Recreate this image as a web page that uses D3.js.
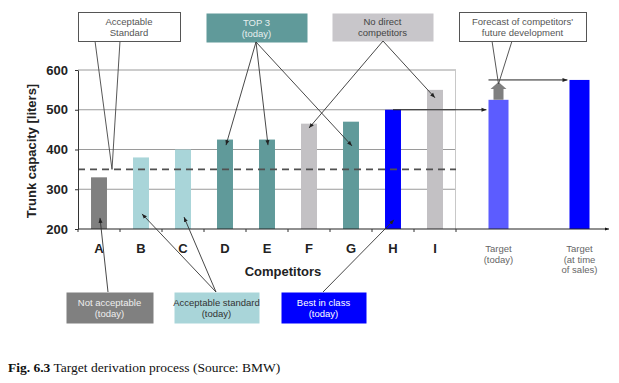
<!DOCTYPE html>
<html><head><meta charset="utf-8">
<script src="https://cdn.jsdelivr.net/npm/d3@7"></script>
<style>body{margin:0;background:#fff}svg{display:block}</style>
</head><body><svg id="c" width="619" height="383"></svg>
<script>
// ---- data ----
const categories = ["A","B","C","D","E","F","G","H","I"];
const values = [330,380,400,425,425,465,470,500,550];
const groups = ["not","acc","acc","top","top","nodirect","top","best","nodirect"];
const targetKeys = ["today","sales"];
const targetLabels = [["Target","(today)"],["Target","(at time","of sales)"]];
const targetValues = [525,575];
const forecastValue = 575;
const acceptableStandard = 350;
const yTicks = [200,300,400,500,600];
const gridValues = [300,400,500,600];
const yTitle = "Trunk capacity [liters]";
const xTitle = "Competitors";

// ---- styles ----
const groupColor = {not:"#808080", acc:"#a9d5d9", top:"#609a9a", nodirect:"#c3c1c4", best:"#0000ff"};
const targetColor = ["#5c5cff","#0000ff"];
const FONT = "'Liberation Sans', Arial, sans-serif";

const svg = d3.select("#c");
const defs = svg.append("defs");
defs.append("marker").attr("id","ah").attr("viewBox","0 0 10 10")
  .attr("refX",10).attr("refY",5).attr("markerWidth",5).attr("markerHeight",5)
  .attr("orient","auto").attr("markerUnits","userSpaceOnUse")
  .append("path").attr("d","M0,1 L10,5 L0,9 z").attr("fill","#222");
defs.append("marker").attr("id","ahs").attr("viewBox","0 0 10 10")
  .attr("refX",10).attr("refY",5).attr("markerWidth",4).attr("markerHeight",4)
  .attr("orient","auto").attr("markerUnits","userSpaceOnUse")
  .append("path").attr("d","M0,1 L10,5 L0,9 z").attr("fill","#111");

// ---- scales ----
const y = d3.scaleLinear().domain([200,600]).range([229,70]);
const x = d3.scaleBand().domain(categories).range([78,456]).paddingInner(0.62).paddingOuter(0.31);
const xt = d3.scaleBand().domain(targetKeys).range([458,620]).paddingInner(0.753).paddingOuter(0.3765);
const cx = c => x(c) + x.bandwidth()/2;
const tx = k => xt(k) + xt.bandwidth()/2;
const [x0, x1] = x.range();

// grid
svg.append("g").selectAll("line").data(gridValues).join("line")
  .attr("x1",x0).attr("x2",x1).attr("y1",d=>y(d)).attr("y2",d=>y(d))
  .attr("stroke","#9a9a9a").attr("stroke-width",1);
svg.append("line").attr("x1",x1-0.5).attr("x2",x1-0.5).attr("y1",y(600)).attr("y2",y(200))
  .attr("stroke","#c8c8c8");

// bars
svg.append("g").selectAll("rect").data(categories).join("rect")
  .attr("x",d=>x(d)).attr("width",x.bandwidth())
  .attr("y",(d,i)=>y(values[i])).attr("height",(d,i)=>y(200)-y(values[i]))
  .attr("fill",(d,i)=>groupColor[groups[i]]);
svg.append("g").selectAll("rect").data(targetKeys).join("rect")
  .attr("x",d=>xt(d)).attr("width",xt.bandwidth())
  .attr("y",(d,i)=>y(targetValues[i])).attr("height",(d,i)=>y(200)-y(targetValues[i]))
  .attr("fill",(d,i)=>targetColor[i]);

// acceptable standard dashed line
svg.append("line").attr("x1",x0).attr("x2",x1).attr("y1",y(acceptableStandard)).attr("y2",y(acceptableStandard))
  .attr("stroke","#505050").attr("stroke-width",1.6).attr("stroke-dasharray","7,5");

// y axis
const yAxis = svg.append("g").attr("transform",`translate(${x0},0)`)
  .call(d3.axisLeft(y).tickValues(yTicks).tickSize(3).tickSizeOuter(0).tickPadding(7));
yAxis.select(".domain").attr("stroke","#333");
yAxis.selectAll(".tick line").attr("stroke","#333");
yAxis.selectAll("text").attr("font-family",FONT).attr("font-weight","bold").attr("font-size",13).attr("fill","#222");

// x axis line with arrow
svg.append("line").attr("x1",x0).attr("x2",609).attr("y1",y(200)).attr("y2",y(200))
  .attr("stroke","#222").attr("stroke-width",1.2).attr("marker-end","url(#ahs)");
const bounds = categories.map(c => x(c) - (x.step()-x.bandwidth())/2).concat([x1]);
svg.append("g").selectAll("line").data(bounds).join("line")
  .attr("x1",d=>d).attr("x2",d=>d).attr("y1",y(200)).attr("y2",y(200)+3).attr("stroke","#333");

// category labels
svg.append("g").selectAll("text").data(categories).join("text")
  .attr("x",d=>cx(d)).attr("y",253).attr("text-anchor","middle")
  .attr("font-family",FONT).attr("font-weight","bold").attr("font-size",13).attr("fill","#222").text(d=>d);
// target labels
targetKeys.forEach((k,i)=>{
  const t = svg.append("text").attr("x",tx(k)).attr("y",252).attr("text-anchor","middle")
    .attr("font-family",FONT).attr("font-size",9.5).attr("fill","#666");
  targetLabels[i].forEach((line,j)=>t.append("tspan").attr("x",tx(k)).attr("dy",j?10.5:0).text(line));
});
// titles
svg.append("text").attr("x",283).attr("y",276).attr("text-anchor","middle")
  .attr("font-family",FONT).attr("font-weight","bold").attr("font-size",13).attr("fill","#222").text(xTitle);
svg.append("text").attr("transform","translate(36,151) rotate(-90)").attr("text-anchor","middle")
  .attr("font-family",FONT).attr("font-weight","bold").attr("font-size",13).attr("fill","#222").text(yTitle);

// forecast grey up-arrow
const ft = tx("today"), yt = y(targetValues[0]), yf = y(forecastValue);
svg.append("path").attr("d",`M${ft-5},${yt} V${yf+9} H${ft-8} L${ft},${yf+2} L${ft+8},${yf+9} H${ft+5} V${yt} Z`)
  .attr("fill","#7f7f7f");
// horizontal arrows
svg.append("line").attr("x1",xt("today")).attr("x2",xt("sales")-2).attr("y1",yf).attr("y2",yf)
  .attr("stroke","#222").attr("marker-end","url(#ah)");
svg.append("line").attr("x1",cx("H")).attr("x2",xt("today")-2).attr("y1",y(values[7])).attr("y2",y(values[7]))
  .attr("stroke","#222").attr("marker-end","url(#ah)");

// ---- annotations ----
function box(x,yy,w,h,fill,stroke,color,lines){
  svg.append("rect").attr("x",x+0.5).attr("y",yy+0.5).attr("width",w).attr("height",h)
    .attr("fill",fill).attr("stroke",stroke||"none");
  const c = yy + h/2;
  lines.forEach((l,j)=>svg.append("text").attr("x",x+w/2).attr("y",c-2+j*11).attr("text-anchor","middle")
    .attr("font-family",FONT).attr("font-size",9.5).attr("fill",color).text(l));
}
function arrow(x1,y1,x2,y2){
  svg.append("line").attr("x1",x1).attr("y1",y1).attr("x2",x2).attr("y2",y2)
    .attr("stroke","#333").attr("stroke-width",0.9).attr("marker-end","url(#ah)");
}
// callout wedges
svg.append("path").attr("d",`M95,41 L${cx("A")+13},${y(acceptableStandard)} L120,41`)
  .attr("fill","none").attr("stroke","#444").attr("stroke-width",0.9);
svg.append("path").attr("d",`M492,41 L${ft},${yf+4} L512,41`)
  .attr("fill","none").attr("stroke","#444").attr("stroke-width",0.9);

box(78,12,102,29,"#fff","#555","#555",["Acceptable","Standard"]);
box(206,13,101,29,"#609a9a",null,"#e6efef",["TOP 3","(today)"]);
box(332,13,101,28,"#c8c6ca",null,"#444",["No direct","competitors"]);
box(459,12,127,29,"#fff","#555","#555",["Forecast of competitors'","future development"]);
box(66,292,87,31,"#808080",null,"#eee",["Not acceptable","(today)"]);
box(174,292,85,31,"#a9d5d9",null,"#333",["Acceptable standard","(today)"]);
box(281,292,85,31,"#0000ff",null,"#fff",["Best in class","(today)"]);

// arrows from boxes
[["D",411],["E",411],["G",409]].forEach(([c,v])=>arrow(256,42,cx(c)+1,y(v)));
[["F",454],["I",530]].forEach(([c,v])=>arrow(383,41,cx(c),y(v)));
arrow(108,292,cx("A")+1,y(228));
[["B",238],["C",230]].forEach(([c,v])=>arrow(216,292,cx(c)+1,y(v)));
arrow(323,292,cx("H")+1,y(223));

// caption
const cap = svg.append("text").attr("x",8).attr("y",372).attr("font-family","'Liberation Serif', 'Times New Roman', serif")
  .attr("font-size",13.5).attr("fill","#111");
cap.append("tspan").attr("font-weight","bold").text("Fig. 6.3");
cap.append("tspan").text(" Target derivation process (Source: BMW)");
</script></body></html>
